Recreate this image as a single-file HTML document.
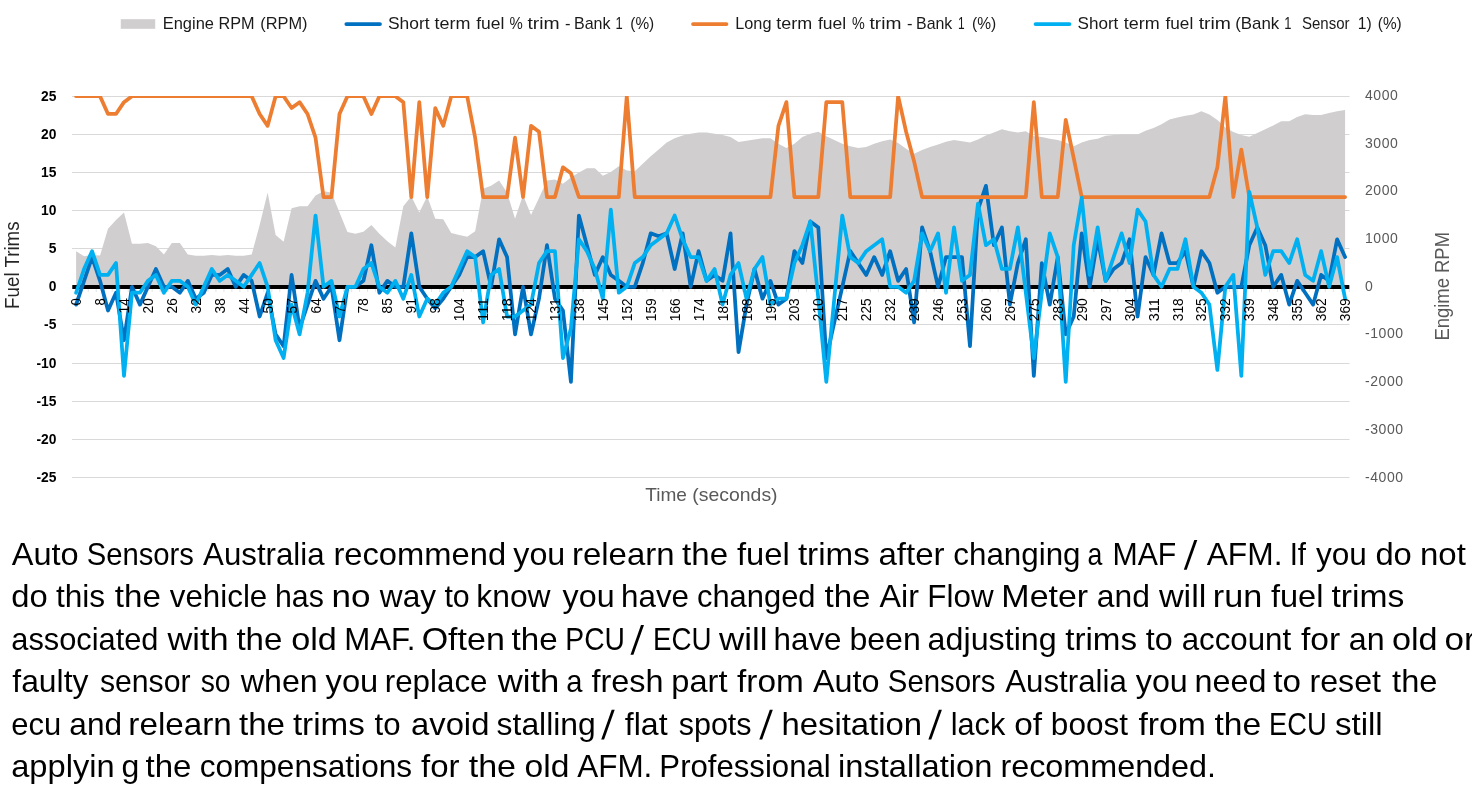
<!DOCTYPE html>
<html><head><meta charset="utf-8"><title>Fuel trims chart</title>
<style>
html,body{margin:0;padding:0;background:#fff;}
body{width:1472px;height:785px;position:relative;overflow:hidden;font-family:"Liberation Sans",sans-serif;}
svg{will-change:transform;}
svg text{font-family:"Liberation Sans",sans-serif;}
</style></head><body>
<svg width="1472" height="520" viewBox="0 0 1472 520" style="position:absolute;left:0;top:0">
<defs><clipPath id="pc"><rect x="72" y="96" width="1278" height="382"/></clipPath></defs>
<line x1="72" x2="1349.5" y1="477.50" y2="477.50" stroke="#d9d9d9" stroke-width="1"/>
<line x1="72" x2="1349.5" y1="439.50" y2="439.50" stroke="#d9d9d9" stroke-width="1"/>
<line x1="72" x2="1349.5" y1="401.50" y2="401.50" stroke="#d9d9d9" stroke-width="1"/>
<line x1="72" x2="1349.5" y1="363.50" y2="363.50" stroke="#d9d9d9" stroke-width="1"/>
<line x1="72" x2="1349.5" y1="324.50" y2="324.50" stroke="#d9d9d9" stroke-width="1"/>
<line x1="72" x2="1349.5" y1="287.00" y2="287.00" stroke="#d9d9d9" stroke-width="1"/>
<line x1="72" x2="1349.5" y1="248.50" y2="248.50" stroke="#d9d9d9" stroke-width="1"/>
<line x1="72" x2="1349.5" y1="210.50" y2="210.50" stroke="#d9d9d9" stroke-width="1"/>
<line x1="72" x2="1349.5" y1="172.50" y2="172.50" stroke="#d9d9d9" stroke-width="1"/>
<line x1="72" x2="1349.5" y1="134.50" y2="134.50" stroke="#d9d9d9" stroke-width="1"/>
<line x1="72" x2="1349.5" y1="96.50" y2="96.50" stroke="#d9d9d9" stroke-width="1"/>
<path d="M76.10,287.00 L76.10,251.25 L84.08,256.25 L92.06,255.00 L100.04,255.50 L108.02,228.75 L116.00,220.00 L123.99,212.50 L131.97,243.75 L139.95,243.75 L147.93,243.00 L155.91,246.25 L163.89,254.50 L171.87,243.00 L179.85,243.00 L187.83,254.50 L195.81,255.75 L203.80,255.75 L211.78,255.00 L219.76,255.75 L227.74,255.00 L235.72,255.75 L243.70,255.75 L251.68,254.50 L259.66,225.00 L267.64,192.50 L275.62,235.00 L283.61,241.75 L291.59,208.25 L299.57,206.25 L307.55,206.25 L315.53,195.50 L323.51,191.25 L331.49,192.50 L339.47,212.50 L347.45,232.00 L355.43,233.75 L363.42,231.75 L371.40,225.00 L379.38,233.75 L387.36,241.25 L395.34,247.50 L403.32,206.25 L411.30,196.25 L419.28,212.50 L427.26,196.25 L435.25,218.75 L443.23,219.25 L451.21,233.00 L459.19,235.00 L467.17,236.75 L475.15,231.25 L483.13,188.75 L491.11,185.75 L499.09,180.50 L507.07,192.50 L515.05,218.75 L523.04,195.00 L531.02,215.00 L539.00,198.00 L546.98,180.50 L554.96,179.50 L562.94,183.75 L570.92,177.50 L578.90,172.50 L586.88,168.25 L594.87,168.25 L602.85,175.75 L610.83,172.00 L618.81,166.25 L626.79,170.50 L634.77,171.25 L642.75,163.75 L650.73,156.25 L658.71,149.50 L666.69,142.50 L674.68,138.25 L682.66,135.50 L690.64,133.75 L698.62,132.50 L706.60,132.50 L714.58,133.75 L722.56,135.00 L730.54,137.00 L738.52,142.00 L746.50,140.75 L754.49,139.50 L762.47,138.25 L770.45,138.25 L778.43,143.75 L786.41,148.00 L794.39,143.75 L802.37,137.00 L810.35,133.75 L818.33,131.75 L826.31,136.25 L834.29,140.00 L842.28,143.75 L850.26,146.25 L858.24,148.00 L866.22,147.00 L874.20,143.75 L882.18,141.25 L890.16,139.50 L898.14,143.00 L906.12,148.75 L914.11,153.75 L922.09,150.00 L930.07,147.00 L938.05,144.50 L946.03,141.75 L954.01,140.00 L961.99,141.25 L969.97,142.50 L977.95,139.50 L985.93,135.50 L993.91,132.50 L1001.90,129.25 L1009.88,131.25 L1017.86,132.50 L1025.84,131.25 L1033.82,136.25 L1041.80,137.00 L1049.78,138.75 L1057.76,140.00 L1065.74,142.50 L1073.72,146.25 L1081.71,142.50 L1089.69,140.00 L1097.67,138.75 L1105.65,135.75 L1113.63,135.00 L1121.61,134.50 L1129.59,134.50 L1137.57,134.50 L1145.55,130.75 L1153.53,128.00 L1161.52,124.25 L1169.50,119.50 L1177.48,117.50 L1185.46,115.75 L1193.44,114.50 L1201.42,111.25 L1209.40,114.50 L1217.38,120.00 L1225.36,127.50 L1233.34,132.00 L1241.33,135.00 L1249.31,136.75 L1257.29,133.00 L1265.27,129.25 L1273.25,125.50 L1281.23,121.25 L1289.21,121.25 L1297.19,117.00 L1305.17,114.25 L1313.15,115.00 L1321.14,115.00 L1329.12,113.00 L1337.10,111.25 L1345.08,110.00 L1345.08,287.00 Z" fill="#d0cece"/>
<line x1="72.3" x2="1349.3" y1="287.00" y2="287.00" stroke="#000" stroke-width="4"/>
<line x1="80.28" x2="80.28" y1="289.00" y2="292.00" stroke="#e4e4e4" stroke-width="1"/>
<line x1="88.26" x2="88.26" y1="289.00" y2="292.00" stroke="#e4e4e4" stroke-width="1"/>
<line x1="96.24" x2="96.24" y1="289.00" y2="292.00" stroke="#e4e4e4" stroke-width="1"/>
<line x1="104.22" x2="104.22" y1="289.00" y2="292.00" stroke="#e4e4e4" stroke-width="1"/>
<line x1="112.20" x2="112.20" y1="289.00" y2="292.00" stroke="#e4e4e4" stroke-width="1"/>
<line x1="120.19" x2="120.19" y1="289.00" y2="292.00" stroke="#e4e4e4" stroke-width="1"/>
<line x1="128.17" x2="128.17" y1="289.00" y2="292.00" stroke="#e4e4e4" stroke-width="1"/>
<line x1="136.15" x2="136.15" y1="289.00" y2="292.00" stroke="#e4e4e4" stroke-width="1"/>
<line x1="144.13" x2="144.13" y1="289.00" y2="292.00" stroke="#e4e4e4" stroke-width="1"/>
<line x1="152.11" x2="152.11" y1="289.00" y2="292.00" stroke="#e4e4e4" stroke-width="1"/>
<line x1="160.09" x2="160.09" y1="289.00" y2="292.00" stroke="#e4e4e4" stroke-width="1"/>
<line x1="168.07" x2="168.07" y1="289.00" y2="292.00" stroke="#e4e4e4" stroke-width="1"/>
<line x1="176.05" x2="176.05" y1="289.00" y2="292.00" stroke="#e4e4e4" stroke-width="1"/>
<line x1="184.03" x2="184.03" y1="289.00" y2="292.00" stroke="#e4e4e4" stroke-width="1"/>
<line x1="192.01" x2="192.01" y1="289.00" y2="292.00" stroke="#e4e4e4" stroke-width="1"/>
<line x1="200.00" x2="200.00" y1="289.00" y2="292.00" stroke="#e4e4e4" stroke-width="1"/>
<line x1="207.98" x2="207.98" y1="289.00" y2="292.00" stroke="#e4e4e4" stroke-width="1"/>
<line x1="215.96" x2="215.96" y1="289.00" y2="292.00" stroke="#e4e4e4" stroke-width="1"/>
<line x1="223.94" x2="223.94" y1="289.00" y2="292.00" stroke="#e4e4e4" stroke-width="1"/>
<line x1="231.92" x2="231.92" y1="289.00" y2="292.00" stroke="#e4e4e4" stroke-width="1"/>
<line x1="239.90" x2="239.90" y1="289.00" y2="292.00" stroke="#e4e4e4" stroke-width="1"/>
<line x1="247.88" x2="247.88" y1="289.00" y2="292.00" stroke="#e4e4e4" stroke-width="1"/>
<line x1="255.86" x2="255.86" y1="289.00" y2="292.00" stroke="#e4e4e4" stroke-width="1"/>
<line x1="263.84" x2="263.84" y1="289.00" y2="292.00" stroke="#e4e4e4" stroke-width="1"/>
<line x1="271.82" x2="271.82" y1="289.00" y2="292.00" stroke="#e4e4e4" stroke-width="1"/>
<line x1="279.81" x2="279.81" y1="289.00" y2="292.00" stroke="#e4e4e4" stroke-width="1"/>
<line x1="287.79" x2="287.79" y1="289.00" y2="292.00" stroke="#e4e4e4" stroke-width="1"/>
<line x1="295.77" x2="295.77" y1="289.00" y2="292.00" stroke="#e4e4e4" stroke-width="1"/>
<line x1="303.75" x2="303.75" y1="289.00" y2="292.00" stroke="#e4e4e4" stroke-width="1"/>
<line x1="311.73" x2="311.73" y1="289.00" y2="292.00" stroke="#e4e4e4" stroke-width="1"/>
<line x1="319.71" x2="319.71" y1="289.00" y2="292.00" stroke="#e4e4e4" stroke-width="1"/>
<line x1="327.69" x2="327.69" y1="289.00" y2="292.00" stroke="#e4e4e4" stroke-width="1"/>
<line x1="335.67" x2="335.67" y1="289.00" y2="292.00" stroke="#e4e4e4" stroke-width="1"/>
<line x1="343.65" x2="343.65" y1="289.00" y2="292.00" stroke="#e4e4e4" stroke-width="1"/>
<line x1="351.63" x2="351.63" y1="289.00" y2="292.00" stroke="#e4e4e4" stroke-width="1"/>
<line x1="359.62" x2="359.62" y1="289.00" y2="292.00" stroke="#e4e4e4" stroke-width="1"/>
<line x1="367.60" x2="367.60" y1="289.00" y2="292.00" stroke="#e4e4e4" stroke-width="1"/>
<line x1="375.58" x2="375.58" y1="289.00" y2="292.00" stroke="#e4e4e4" stroke-width="1"/>
<line x1="383.56" x2="383.56" y1="289.00" y2="292.00" stroke="#e4e4e4" stroke-width="1"/>
<line x1="391.54" x2="391.54" y1="289.00" y2="292.00" stroke="#e4e4e4" stroke-width="1"/>
<line x1="399.52" x2="399.52" y1="289.00" y2="292.00" stroke="#e4e4e4" stroke-width="1"/>
<line x1="407.50" x2="407.50" y1="289.00" y2="292.00" stroke="#e4e4e4" stroke-width="1"/>
<line x1="415.48" x2="415.48" y1="289.00" y2="292.00" stroke="#e4e4e4" stroke-width="1"/>
<line x1="423.46" x2="423.46" y1="289.00" y2="292.00" stroke="#e4e4e4" stroke-width="1"/>
<line x1="431.44" x2="431.44" y1="289.00" y2="292.00" stroke="#e4e4e4" stroke-width="1"/>
<line x1="439.43" x2="439.43" y1="289.00" y2="292.00" stroke="#e4e4e4" stroke-width="1"/>
<line x1="447.41" x2="447.41" y1="289.00" y2="292.00" stroke="#e4e4e4" stroke-width="1"/>
<line x1="455.39" x2="455.39" y1="289.00" y2="292.00" stroke="#e4e4e4" stroke-width="1"/>
<line x1="463.37" x2="463.37" y1="289.00" y2="292.00" stroke="#e4e4e4" stroke-width="1"/>
<line x1="471.35" x2="471.35" y1="289.00" y2="292.00" stroke="#e4e4e4" stroke-width="1"/>
<line x1="479.33" x2="479.33" y1="289.00" y2="292.00" stroke="#e4e4e4" stroke-width="1"/>
<line x1="487.31" x2="487.31" y1="289.00" y2="292.00" stroke="#e4e4e4" stroke-width="1"/>
<line x1="495.29" x2="495.29" y1="289.00" y2="292.00" stroke="#e4e4e4" stroke-width="1"/>
<line x1="503.27" x2="503.27" y1="289.00" y2="292.00" stroke="#e4e4e4" stroke-width="1"/>
<line x1="511.25" x2="511.25" y1="289.00" y2="292.00" stroke="#e4e4e4" stroke-width="1"/>
<line x1="519.24" x2="519.24" y1="289.00" y2="292.00" stroke="#e4e4e4" stroke-width="1"/>
<line x1="527.22" x2="527.22" y1="289.00" y2="292.00" stroke="#e4e4e4" stroke-width="1"/>
<line x1="535.20" x2="535.20" y1="289.00" y2="292.00" stroke="#e4e4e4" stroke-width="1"/>
<line x1="543.18" x2="543.18" y1="289.00" y2="292.00" stroke="#e4e4e4" stroke-width="1"/>
<line x1="551.16" x2="551.16" y1="289.00" y2="292.00" stroke="#e4e4e4" stroke-width="1"/>
<line x1="559.14" x2="559.14" y1="289.00" y2="292.00" stroke="#e4e4e4" stroke-width="1"/>
<line x1="567.12" x2="567.12" y1="289.00" y2="292.00" stroke="#e4e4e4" stroke-width="1"/>
<line x1="575.10" x2="575.10" y1="289.00" y2="292.00" stroke="#e4e4e4" stroke-width="1"/>
<line x1="583.08" x2="583.08" y1="289.00" y2="292.00" stroke="#e4e4e4" stroke-width="1"/>
<line x1="591.06" x2="591.06" y1="289.00" y2="292.00" stroke="#e4e4e4" stroke-width="1"/>
<line x1="599.05" x2="599.05" y1="289.00" y2="292.00" stroke="#e4e4e4" stroke-width="1"/>
<line x1="607.03" x2="607.03" y1="289.00" y2="292.00" stroke="#e4e4e4" stroke-width="1"/>
<line x1="615.01" x2="615.01" y1="289.00" y2="292.00" stroke="#e4e4e4" stroke-width="1"/>
<line x1="622.99" x2="622.99" y1="289.00" y2="292.00" stroke="#e4e4e4" stroke-width="1"/>
<line x1="630.97" x2="630.97" y1="289.00" y2="292.00" stroke="#e4e4e4" stroke-width="1"/>
<line x1="638.95" x2="638.95" y1="289.00" y2="292.00" stroke="#e4e4e4" stroke-width="1"/>
<line x1="646.93" x2="646.93" y1="289.00" y2="292.00" stroke="#e4e4e4" stroke-width="1"/>
<line x1="654.91" x2="654.91" y1="289.00" y2="292.00" stroke="#e4e4e4" stroke-width="1"/>
<line x1="662.89" x2="662.89" y1="289.00" y2="292.00" stroke="#e4e4e4" stroke-width="1"/>
<line x1="670.88" x2="670.88" y1="289.00" y2="292.00" stroke="#e4e4e4" stroke-width="1"/>
<line x1="678.86" x2="678.86" y1="289.00" y2="292.00" stroke="#e4e4e4" stroke-width="1"/>
<line x1="686.84" x2="686.84" y1="289.00" y2="292.00" stroke="#e4e4e4" stroke-width="1"/>
<line x1="694.82" x2="694.82" y1="289.00" y2="292.00" stroke="#e4e4e4" stroke-width="1"/>
<line x1="702.80" x2="702.80" y1="289.00" y2="292.00" stroke="#e4e4e4" stroke-width="1"/>
<line x1="710.78" x2="710.78" y1="289.00" y2="292.00" stroke="#e4e4e4" stroke-width="1"/>
<line x1="718.76" x2="718.76" y1="289.00" y2="292.00" stroke="#e4e4e4" stroke-width="1"/>
<line x1="726.74" x2="726.74" y1="289.00" y2="292.00" stroke="#e4e4e4" stroke-width="1"/>
<line x1="734.72" x2="734.72" y1="289.00" y2="292.00" stroke="#e4e4e4" stroke-width="1"/>
<line x1="742.70" x2="742.70" y1="289.00" y2="292.00" stroke="#e4e4e4" stroke-width="1"/>
<line x1="750.68" x2="750.68" y1="289.00" y2="292.00" stroke="#e4e4e4" stroke-width="1"/>
<line x1="758.67" x2="758.67" y1="289.00" y2="292.00" stroke="#e4e4e4" stroke-width="1"/>
<line x1="766.65" x2="766.65" y1="289.00" y2="292.00" stroke="#e4e4e4" stroke-width="1"/>
<line x1="774.63" x2="774.63" y1="289.00" y2="292.00" stroke="#e4e4e4" stroke-width="1"/>
<line x1="782.61" x2="782.61" y1="289.00" y2="292.00" stroke="#e4e4e4" stroke-width="1"/>
<line x1="790.59" x2="790.59" y1="289.00" y2="292.00" stroke="#e4e4e4" stroke-width="1"/>
<line x1="798.57" x2="798.57" y1="289.00" y2="292.00" stroke="#e4e4e4" stroke-width="1"/>
<line x1="806.55" x2="806.55" y1="289.00" y2="292.00" stroke="#e4e4e4" stroke-width="1"/>
<line x1="814.53" x2="814.53" y1="289.00" y2="292.00" stroke="#e4e4e4" stroke-width="1"/>
<line x1="822.51" x2="822.51" y1="289.00" y2="292.00" stroke="#e4e4e4" stroke-width="1"/>
<line x1="830.49" x2="830.49" y1="289.00" y2="292.00" stroke="#e4e4e4" stroke-width="1"/>
<line x1="838.48" x2="838.48" y1="289.00" y2="292.00" stroke="#e4e4e4" stroke-width="1"/>
<line x1="846.46" x2="846.46" y1="289.00" y2="292.00" stroke="#e4e4e4" stroke-width="1"/>
<line x1="854.44" x2="854.44" y1="289.00" y2="292.00" stroke="#e4e4e4" stroke-width="1"/>
<line x1="862.42" x2="862.42" y1="289.00" y2="292.00" stroke="#e4e4e4" stroke-width="1"/>
<line x1="870.40" x2="870.40" y1="289.00" y2="292.00" stroke="#e4e4e4" stroke-width="1"/>
<line x1="878.38" x2="878.38" y1="289.00" y2="292.00" stroke="#e4e4e4" stroke-width="1"/>
<line x1="886.36" x2="886.36" y1="289.00" y2="292.00" stroke="#e4e4e4" stroke-width="1"/>
<line x1="894.34" x2="894.34" y1="289.00" y2="292.00" stroke="#e4e4e4" stroke-width="1"/>
<line x1="902.32" x2="902.32" y1="289.00" y2="292.00" stroke="#e4e4e4" stroke-width="1"/>
<line x1="910.30" x2="910.30" y1="289.00" y2="292.00" stroke="#e4e4e4" stroke-width="1"/>
<line x1="918.29" x2="918.29" y1="289.00" y2="292.00" stroke="#e4e4e4" stroke-width="1"/>
<line x1="926.27" x2="926.27" y1="289.00" y2="292.00" stroke="#e4e4e4" stroke-width="1"/>
<line x1="934.25" x2="934.25" y1="289.00" y2="292.00" stroke="#e4e4e4" stroke-width="1"/>
<line x1="942.23" x2="942.23" y1="289.00" y2="292.00" stroke="#e4e4e4" stroke-width="1"/>
<line x1="950.21" x2="950.21" y1="289.00" y2="292.00" stroke="#e4e4e4" stroke-width="1"/>
<line x1="958.19" x2="958.19" y1="289.00" y2="292.00" stroke="#e4e4e4" stroke-width="1"/>
<line x1="966.17" x2="966.17" y1="289.00" y2="292.00" stroke="#e4e4e4" stroke-width="1"/>
<line x1="974.15" x2="974.15" y1="289.00" y2="292.00" stroke="#e4e4e4" stroke-width="1"/>
<line x1="982.13" x2="982.13" y1="289.00" y2="292.00" stroke="#e4e4e4" stroke-width="1"/>
<line x1="990.11" x2="990.11" y1="289.00" y2="292.00" stroke="#e4e4e4" stroke-width="1"/>
<line x1="998.10" x2="998.10" y1="289.00" y2="292.00" stroke="#e4e4e4" stroke-width="1"/>
<line x1="1006.08" x2="1006.08" y1="289.00" y2="292.00" stroke="#e4e4e4" stroke-width="1"/>
<line x1="1014.06" x2="1014.06" y1="289.00" y2="292.00" stroke="#e4e4e4" stroke-width="1"/>
<line x1="1022.04" x2="1022.04" y1="289.00" y2="292.00" stroke="#e4e4e4" stroke-width="1"/>
<line x1="1030.02" x2="1030.02" y1="289.00" y2="292.00" stroke="#e4e4e4" stroke-width="1"/>
<line x1="1038.00" x2="1038.00" y1="289.00" y2="292.00" stroke="#e4e4e4" stroke-width="1"/>
<line x1="1045.98" x2="1045.98" y1="289.00" y2="292.00" stroke="#e4e4e4" stroke-width="1"/>
<line x1="1053.96" x2="1053.96" y1="289.00" y2="292.00" stroke="#e4e4e4" stroke-width="1"/>
<line x1="1061.94" x2="1061.94" y1="289.00" y2="292.00" stroke="#e4e4e4" stroke-width="1"/>
<line x1="1069.92" x2="1069.92" y1="289.00" y2="292.00" stroke="#e4e4e4" stroke-width="1"/>
<line x1="1077.91" x2="1077.91" y1="289.00" y2="292.00" stroke="#e4e4e4" stroke-width="1"/>
<line x1="1085.89" x2="1085.89" y1="289.00" y2="292.00" stroke="#e4e4e4" stroke-width="1"/>
<line x1="1093.87" x2="1093.87" y1="289.00" y2="292.00" stroke="#e4e4e4" stroke-width="1"/>
<line x1="1101.85" x2="1101.85" y1="289.00" y2="292.00" stroke="#e4e4e4" stroke-width="1"/>
<line x1="1109.83" x2="1109.83" y1="289.00" y2="292.00" stroke="#e4e4e4" stroke-width="1"/>
<line x1="1117.81" x2="1117.81" y1="289.00" y2="292.00" stroke="#e4e4e4" stroke-width="1"/>
<line x1="1125.79" x2="1125.79" y1="289.00" y2="292.00" stroke="#e4e4e4" stroke-width="1"/>
<line x1="1133.77" x2="1133.77" y1="289.00" y2="292.00" stroke="#e4e4e4" stroke-width="1"/>
<line x1="1141.75" x2="1141.75" y1="289.00" y2="292.00" stroke="#e4e4e4" stroke-width="1"/>
<line x1="1149.73" x2="1149.73" y1="289.00" y2="292.00" stroke="#e4e4e4" stroke-width="1"/>
<line x1="1157.72" x2="1157.72" y1="289.00" y2="292.00" stroke="#e4e4e4" stroke-width="1"/>
<line x1="1165.70" x2="1165.70" y1="289.00" y2="292.00" stroke="#e4e4e4" stroke-width="1"/>
<line x1="1173.68" x2="1173.68" y1="289.00" y2="292.00" stroke="#e4e4e4" stroke-width="1"/>
<line x1="1181.66" x2="1181.66" y1="289.00" y2="292.00" stroke="#e4e4e4" stroke-width="1"/>
<line x1="1189.64" x2="1189.64" y1="289.00" y2="292.00" stroke="#e4e4e4" stroke-width="1"/>
<line x1="1197.62" x2="1197.62" y1="289.00" y2="292.00" stroke="#e4e4e4" stroke-width="1"/>
<line x1="1205.60" x2="1205.60" y1="289.00" y2="292.00" stroke="#e4e4e4" stroke-width="1"/>
<line x1="1213.58" x2="1213.58" y1="289.00" y2="292.00" stroke="#e4e4e4" stroke-width="1"/>
<line x1="1221.56" x2="1221.56" y1="289.00" y2="292.00" stroke="#e4e4e4" stroke-width="1"/>
<line x1="1229.54" x2="1229.54" y1="289.00" y2="292.00" stroke="#e4e4e4" stroke-width="1"/>
<line x1="1237.53" x2="1237.53" y1="289.00" y2="292.00" stroke="#e4e4e4" stroke-width="1"/>
<line x1="1245.51" x2="1245.51" y1="289.00" y2="292.00" stroke="#e4e4e4" stroke-width="1"/>
<line x1="1253.49" x2="1253.49" y1="289.00" y2="292.00" stroke="#e4e4e4" stroke-width="1"/>
<line x1="1261.47" x2="1261.47" y1="289.00" y2="292.00" stroke="#e4e4e4" stroke-width="1"/>
<line x1="1269.45" x2="1269.45" y1="289.00" y2="292.00" stroke="#e4e4e4" stroke-width="1"/>
<line x1="1277.43" x2="1277.43" y1="289.00" y2="292.00" stroke="#e4e4e4" stroke-width="1"/>
<line x1="1285.41" x2="1285.41" y1="289.00" y2="292.00" stroke="#e4e4e4" stroke-width="1"/>
<line x1="1293.39" x2="1293.39" y1="289.00" y2="292.00" stroke="#e4e4e4" stroke-width="1"/>
<line x1="1301.37" x2="1301.37" y1="289.00" y2="292.00" stroke="#e4e4e4" stroke-width="1"/>
<line x1="1309.36" x2="1309.36" y1="289.00" y2="292.00" stroke="#e4e4e4" stroke-width="1"/>
<line x1="1317.34" x2="1317.34" y1="289.00" y2="292.00" stroke="#e4e4e4" stroke-width="1"/>
<line x1="1325.32" x2="1325.32" y1="289.00" y2="292.00" stroke="#e4e4e4" stroke-width="1"/>
<line x1="1333.30" x2="1333.30" y1="289.00" y2="292.00" stroke="#e4e4e4" stroke-width="1"/>
<line x1="1341.28" x2="1341.28" y1="289.00" y2="292.00" stroke="#e4e4e4" stroke-width="1"/>
<line x1="1349.26" x2="1349.26" y1="289.00" y2="292.00" stroke="#e4e4e4" stroke-width="1"/>
<g clip-path="url(#pc)" fill="none" stroke-width="3.75" stroke-linejoin="round" stroke-linecap="round">
<polyline points="76.10,304.62 84.08,280.86 92.06,257.10 100.04,280.86 108.02,310.56 116.00,292.74 123.99,340.26 131.97,286.80 139.95,304.62 147.93,286.80 155.91,268.98 163.89,286.80 171.87,286.80 179.85,292.74 187.83,280.86 195.81,298.68 203.80,292.74 211.78,274.92 219.76,274.92 227.74,268.98 235.72,286.80 243.70,274.92 251.68,280.86 259.66,316.50 267.64,292.74 275.62,334.32 283.61,346.20 291.59,274.92 299.57,328.38 307.55,304.62 315.53,280.86 323.51,298.68 331.49,286.80 339.47,340.26 347.45,286.80 355.43,286.80 363.42,280.86 371.40,245.22 379.38,292.74 387.36,280.86 395.34,286.80 403.32,286.80 411.30,233.34 419.28,286.80 427.26,298.68 435.25,308.18 443.23,298.68 451.21,286.80 459.19,274.92 467.17,257.10 475.15,257.10 483.13,251.16 491.11,286.80 499.09,239.28 507.07,257.10 515.05,334.32 523.04,286.80 531.02,334.32 539.00,298.68 546.98,245.22 554.96,298.68 562.94,310.56 570.92,381.84 578.90,215.52 586.88,245.22 594.87,274.92 602.85,257.10 610.83,274.92 618.81,280.86 626.79,286.80 634.77,286.80 642.75,263.04 650.73,233.34 658.71,236.31 666.69,233.34 674.68,268.98 682.66,233.34 690.64,286.80 698.62,251.16 706.60,280.86 714.58,274.92 722.56,280.86 730.54,233.34 738.52,352.14 746.50,304.62 754.49,268.98 762.47,298.68 770.45,280.86 778.43,304.62 786.41,298.68 794.39,251.16 802.37,263.04 810.35,221.46 818.33,227.40 826.31,358.08 834.29,322.44 842.28,286.80 850.26,251.16 858.24,263.04 866.22,274.92 874.20,257.10 882.18,274.92 890.16,251.16 898.14,280.86 906.12,268.98 914.11,322.44 922.09,227.40 930.07,251.16 938.05,286.80 946.03,257.10 954.01,257.10 961.99,257.10 969.97,346.20 977.95,209.58 985.93,185.82 993.91,245.22 1001.90,227.40 1009.88,304.62 1017.86,263.04 1025.84,239.28 1033.82,375.90 1041.80,263.04 1049.78,304.62 1057.76,257.10 1065.74,334.32 1073.72,316.50 1081.71,233.34 1089.69,286.80 1097.67,239.28 1105.65,280.86 1113.63,268.98 1121.61,263.04 1129.59,239.28 1137.57,316.50 1145.55,257.10 1153.53,274.92 1161.52,233.34 1169.50,263.04 1177.48,263.04 1185.46,251.16 1193.44,286.80 1201.42,251.16 1209.40,263.04 1217.38,292.74 1225.36,286.80 1233.34,286.80 1241.33,286.80 1249.31,245.22 1257.29,227.40 1265.27,245.22 1273.25,286.80 1281.23,274.92 1289.21,304.62 1297.19,280.86 1305.17,292.74 1313.15,304.62 1321.14,274.92 1329.12,280.86 1337.10,239.28 1345.08,257.10" stroke="#0070c0"/>
<polyline points="76.10,96.20 84.08,96.20 92.06,96.20 100.04,96.20 108.02,113.99 116.00,113.99 123.99,102.13 131.97,96.20 139.95,96.20 147.93,96.20 155.91,96.20 163.89,96.20 171.87,96.20 179.85,96.20 187.83,96.20 195.81,96.20 203.80,96.20 211.78,96.20 219.76,96.20 227.74,96.20 235.72,96.20 243.70,96.20 251.68,96.20 259.66,113.99 267.64,125.85 275.62,96.20 283.61,96.20 291.59,108.06 299.57,102.13 307.55,113.99 315.53,137.71 323.51,197.01 331.49,197.01 339.47,113.99 347.45,96.20 355.43,96.20 363.42,96.20 371.40,113.99 379.38,96.20 387.36,96.20 395.34,96.20 403.32,102.13 411.30,197.01 419.28,102.13 427.26,197.01 435.25,108.06 443.23,125.85 451.21,96.20 459.19,96.20 467.17,96.20 475.15,137.71 483.13,197.01 491.11,197.01 499.09,197.01 507.07,197.01 515.05,137.71 523.04,197.01 531.02,125.85 539.00,131.78 546.98,197.01 554.96,197.01 562.94,167.36 570.92,173.29 578.90,197.01 586.88,197.01 594.87,197.01 602.85,197.01 610.83,197.01 618.81,197.01 626.79,96.20 634.77,197.01 642.75,197.01 650.73,197.01 658.71,197.01 666.69,197.01 674.68,197.01 682.66,197.01 690.64,197.01 698.62,197.01 706.60,197.01 714.58,197.01 722.56,197.01 730.54,197.01 738.52,197.01 746.50,197.01 754.49,197.01 762.47,197.01 770.45,197.01 778.43,125.85 786.41,102.13 794.39,197.01 802.37,197.01 810.35,197.01 818.33,197.01 826.31,102.13 834.29,102.13 842.28,102.13 850.26,197.01 858.24,197.01 866.22,197.01 874.20,197.01 882.18,197.01 890.16,197.01 898.14,96.20 906.12,131.78 914.11,161.43 922.09,197.01 930.07,197.01 938.05,197.01 946.03,197.01 954.01,197.01 961.99,197.01 969.97,197.01 977.95,197.01 985.93,197.01 993.91,197.01 1001.90,197.01 1009.88,197.01 1017.86,197.01 1025.84,197.01 1033.82,102.13 1041.80,197.01 1049.78,197.01 1057.76,197.01 1065.74,119.92 1073.72,158.11 1081.71,197.01 1089.69,197.01 1097.67,197.01 1105.65,197.01 1113.63,197.01 1121.61,197.01 1129.59,197.01 1137.57,197.01 1145.55,197.01 1153.53,197.01 1161.52,197.01 1169.50,197.01 1177.48,197.01 1185.46,197.01 1193.44,197.01 1201.42,197.01 1209.40,197.01 1217.38,167.36 1225.36,96.20 1233.34,197.01 1241.33,149.57 1249.31,197.01 1257.29,197.01 1265.27,197.01 1273.25,197.01 1281.23,197.01 1289.21,197.01 1297.19,197.01 1305.17,197.01 1313.15,197.01 1321.14,197.01 1329.12,197.01 1337.10,197.01 1345.08,197.01" stroke="#ed7d31"/>
<polyline points="76.10,292.74 84.08,268.98 92.06,251.16 100.04,274.92 108.02,274.92 116.00,263.04 123.99,375.90 131.97,292.74 139.95,292.74 147.93,280.86 155.91,274.92 163.89,292.74 171.87,280.86 179.85,280.86 187.83,286.80 195.81,304.62 203.80,286.80 211.78,268.98 219.76,280.86 227.74,274.92 235.72,280.86 243.70,286.80 251.68,274.92 259.66,263.04 267.64,286.80 275.62,340.26 283.61,358.08 291.59,304.62 299.57,334.32 307.55,292.74 315.53,215.52 323.51,286.80 331.49,280.86 339.47,316.50 347.45,286.80 355.43,286.80 363.42,268.98 371.40,263.04 379.38,286.80 387.36,292.74 395.34,280.86 403.32,298.68 411.30,274.92 419.28,316.50 427.26,298.68 435.25,304.62 443.23,292.74 451.21,286.80 459.19,268.98 467.17,251.16 475.15,257.10 483.13,322.44 491.11,274.92 499.09,268.98 507.07,316.50 515.05,316.50 523.04,310.56 531.02,304.62 539.00,263.04 546.98,251.16 554.96,251.16 562.94,358.08 570.92,328.38 578.90,239.28 586.88,251.16 594.87,268.98 602.85,298.68 610.83,209.58 618.81,292.74 626.79,286.80 634.77,263.04 642.75,257.10 650.73,245.22 658.71,239.28 666.69,233.34 674.68,215.52 682.66,239.28 690.64,257.10 698.62,257.10 706.60,280.86 714.58,268.98 722.56,304.62 730.54,274.92 738.52,263.04 746.50,298.68 754.49,268.98 762.47,257.10 770.45,304.62 778.43,298.68 786.41,298.68 794.39,263.04 802.37,245.22 810.35,221.46 818.33,298.68 826.31,381.84 834.29,298.68 842.28,215.52 850.26,257.10 858.24,263.04 866.22,251.16 874.20,245.22 882.18,239.28 890.16,286.80 898.14,286.80 906.12,292.74 914.11,280.86 922.09,233.34 930.07,251.16 938.05,233.34 946.03,292.74 954.01,227.40 961.99,280.86 969.97,274.92 977.95,203.64 985.93,245.22 993.91,239.28 1001.90,268.98 1009.88,268.98 1017.86,227.40 1025.84,292.74 1033.82,358.08 1041.80,292.74 1049.78,233.34 1057.76,257.10 1065.74,381.84 1073.72,245.22 1081.71,197.70 1089.69,274.92 1097.67,227.40 1105.65,280.86 1113.63,257.10 1121.61,233.34 1129.59,263.04 1137.57,209.58 1145.55,221.46 1153.53,274.92 1161.52,286.80 1169.50,268.98 1177.48,268.98 1185.46,239.28 1193.44,286.80 1201.42,292.74 1209.40,304.62 1217.38,369.96 1225.36,286.80 1233.34,274.92 1241.33,375.90 1249.31,191.76 1257.29,227.40 1265.27,274.92 1273.25,251.16 1281.23,251.16 1289.21,263.04 1297.19,239.28 1305.17,274.92 1313.15,280.86 1321.14,251.16 1329.12,286.80 1337.10,257.10 1345.08,298.68" stroke="#00b0f0"/>
</g>
<text transform="translate(81.15,298.2) rotate(-90)" text-anchor="end" font-size="14.8" fill="#000" textLength="7.3" lengthAdjust="spacingAndGlyphs">0</text>
<text transform="translate(105.09,298.2) rotate(-90)" text-anchor="end" font-size="14.8" fill="#000" textLength="7.3" lengthAdjust="spacingAndGlyphs">8</text>
<text transform="translate(129.04,298.2) rotate(-90)" text-anchor="end" font-size="14.8" fill="#000" textLength="15.2" lengthAdjust="spacingAndGlyphs">14</text>
<text transform="translate(152.98,298.2) rotate(-90)" text-anchor="end" font-size="14.8" fill="#000" textLength="15.2" lengthAdjust="spacingAndGlyphs">20</text>
<text transform="translate(176.92,298.2) rotate(-90)" text-anchor="end" font-size="14.8" fill="#000" textLength="15.2" lengthAdjust="spacingAndGlyphs">26</text>
<text transform="translate(200.87,298.2) rotate(-90)" text-anchor="end" font-size="14.8" fill="#000" textLength="15.2" lengthAdjust="spacingAndGlyphs">32</text>
<text transform="translate(224.81,298.2) rotate(-90)" text-anchor="end" font-size="14.8" fill="#000" textLength="15.2" lengthAdjust="spacingAndGlyphs">38</text>
<text transform="translate(248.75,298.2) rotate(-90)" text-anchor="end" font-size="14.8" fill="#000" textLength="15.2" lengthAdjust="spacingAndGlyphs">44</text>
<text transform="translate(272.69,298.2) rotate(-90)" text-anchor="end" font-size="14.8" fill="#000" textLength="15.2" lengthAdjust="spacingAndGlyphs">50</text>
<text transform="translate(296.64,298.2) rotate(-90)" text-anchor="end" font-size="14.8" fill="#000" textLength="15.2" lengthAdjust="spacingAndGlyphs">57</text>
<text transform="translate(320.58,298.2) rotate(-90)" text-anchor="end" font-size="14.8" fill="#000" textLength="15.2" lengthAdjust="spacingAndGlyphs">64</text>
<text transform="translate(344.52,298.2) rotate(-90)" text-anchor="end" font-size="14.8" fill="#000" textLength="15.2" lengthAdjust="spacingAndGlyphs">71</text>
<text transform="translate(368.47,298.2) rotate(-90)" text-anchor="end" font-size="14.8" fill="#000" textLength="15.2" lengthAdjust="spacingAndGlyphs">78</text>
<text transform="translate(392.41,298.2) rotate(-90)" text-anchor="end" font-size="14.8" fill="#000" textLength="15.2" lengthAdjust="spacingAndGlyphs">85</text>
<text transform="translate(416.35,298.2) rotate(-90)" text-anchor="end" font-size="14.8" fill="#000" textLength="15.2" lengthAdjust="spacingAndGlyphs">91</text>
<text transform="translate(440.30,298.2) rotate(-90)" text-anchor="end" font-size="14.8" fill="#000" textLength="15.2" lengthAdjust="spacingAndGlyphs">98</text>
<text transform="translate(464.24,298.2) rotate(-90)" text-anchor="end" font-size="14.8" fill="#000" textLength="23.0" lengthAdjust="spacingAndGlyphs">104</text>
<text transform="translate(488.18,298.2) rotate(-90)" text-anchor="end" font-size="14.8" fill="#000" textLength="23.0" lengthAdjust="spacingAndGlyphs">111</text>
<text transform="translate(512.12,298.2) rotate(-90)" text-anchor="end" font-size="14.8" fill="#000" textLength="23.0" lengthAdjust="spacingAndGlyphs">118</text>
<text transform="translate(536.07,298.2) rotate(-90)" text-anchor="end" font-size="14.8" fill="#000" textLength="23.0" lengthAdjust="spacingAndGlyphs">124</text>
<text transform="translate(560.01,298.2) rotate(-90)" text-anchor="end" font-size="14.8" fill="#000" textLength="23.0" lengthAdjust="spacingAndGlyphs">131</text>
<text transform="translate(583.95,298.2) rotate(-90)" text-anchor="end" font-size="14.8" fill="#000" textLength="23.0" lengthAdjust="spacingAndGlyphs">138</text>
<text transform="translate(607.90,298.2) rotate(-90)" text-anchor="end" font-size="14.8" fill="#000" textLength="23.0" lengthAdjust="spacingAndGlyphs">145</text>
<text transform="translate(631.84,298.2) rotate(-90)" text-anchor="end" font-size="14.8" fill="#000" textLength="23.0" lengthAdjust="spacingAndGlyphs">152</text>
<text transform="translate(655.78,298.2) rotate(-90)" text-anchor="end" font-size="14.8" fill="#000" textLength="23.0" lengthAdjust="spacingAndGlyphs">159</text>
<text transform="translate(679.73,298.2) rotate(-90)" text-anchor="end" font-size="14.8" fill="#000" textLength="23.0" lengthAdjust="spacingAndGlyphs">166</text>
<text transform="translate(703.67,298.2) rotate(-90)" text-anchor="end" font-size="14.8" fill="#000" textLength="23.0" lengthAdjust="spacingAndGlyphs">174</text>
<text transform="translate(727.61,298.2) rotate(-90)" text-anchor="end" font-size="14.8" fill="#000" textLength="23.0" lengthAdjust="spacingAndGlyphs">181</text>
<text transform="translate(751.55,298.2) rotate(-90)" text-anchor="end" font-size="14.8" fill="#000" textLength="23.0" lengthAdjust="spacingAndGlyphs">188</text>
<text transform="translate(775.50,298.2) rotate(-90)" text-anchor="end" font-size="14.8" fill="#000" textLength="23.0" lengthAdjust="spacingAndGlyphs">195</text>
<text transform="translate(799.44,298.2) rotate(-90)" text-anchor="end" font-size="14.8" fill="#000" textLength="23.0" lengthAdjust="spacingAndGlyphs">203</text>
<text transform="translate(823.38,298.2) rotate(-90)" text-anchor="end" font-size="14.8" fill="#000" textLength="23.0" lengthAdjust="spacingAndGlyphs">210</text>
<text transform="translate(847.33,298.2) rotate(-90)" text-anchor="end" font-size="14.8" fill="#000" textLength="23.0" lengthAdjust="spacingAndGlyphs">217</text>
<text transform="translate(871.27,298.2) rotate(-90)" text-anchor="end" font-size="14.8" fill="#000" textLength="23.0" lengthAdjust="spacingAndGlyphs">225</text>
<text transform="translate(895.21,298.2) rotate(-90)" text-anchor="end" font-size="14.8" fill="#000" textLength="23.0" lengthAdjust="spacingAndGlyphs">232</text>
<text transform="translate(919.15,298.2) rotate(-90)" text-anchor="end" font-size="14.8" fill="#000" textLength="23.0" lengthAdjust="spacingAndGlyphs">239</text>
<text transform="translate(943.10,298.2) rotate(-90)" text-anchor="end" font-size="14.8" fill="#000" textLength="23.0" lengthAdjust="spacingAndGlyphs">246</text>
<text transform="translate(967.04,298.2) rotate(-90)" text-anchor="end" font-size="14.8" fill="#000" textLength="23.0" lengthAdjust="spacingAndGlyphs">253</text>
<text transform="translate(990.98,298.2) rotate(-90)" text-anchor="end" font-size="14.8" fill="#000" textLength="23.0" lengthAdjust="spacingAndGlyphs">260</text>
<text transform="translate(1014.93,298.2) rotate(-90)" text-anchor="end" font-size="14.8" fill="#000" textLength="23.0" lengthAdjust="spacingAndGlyphs">267</text>
<text transform="translate(1038.87,298.2) rotate(-90)" text-anchor="end" font-size="14.8" fill="#000" textLength="23.0" lengthAdjust="spacingAndGlyphs">275</text>
<text transform="translate(1062.81,298.2) rotate(-90)" text-anchor="end" font-size="14.8" fill="#000" textLength="23.0" lengthAdjust="spacingAndGlyphs">283</text>
<text transform="translate(1086.76,298.2) rotate(-90)" text-anchor="end" font-size="14.8" fill="#000" textLength="23.0" lengthAdjust="spacingAndGlyphs">290</text>
<text transform="translate(1110.70,298.2) rotate(-90)" text-anchor="end" font-size="14.8" fill="#000" textLength="23.0" lengthAdjust="spacingAndGlyphs">297</text>
<text transform="translate(1134.64,298.2) rotate(-90)" text-anchor="end" font-size="14.8" fill="#000" textLength="23.0" lengthAdjust="spacingAndGlyphs">304</text>
<text transform="translate(1158.58,298.2) rotate(-90)" text-anchor="end" font-size="14.8" fill="#000" textLength="23.0" lengthAdjust="spacingAndGlyphs">311</text>
<text transform="translate(1182.53,298.2) rotate(-90)" text-anchor="end" font-size="14.8" fill="#000" textLength="23.0" lengthAdjust="spacingAndGlyphs">318</text>
<text transform="translate(1206.47,298.2) rotate(-90)" text-anchor="end" font-size="14.8" fill="#000" textLength="23.0" lengthAdjust="spacingAndGlyphs">325</text>
<text transform="translate(1230.41,298.2) rotate(-90)" text-anchor="end" font-size="14.8" fill="#000" textLength="23.0" lengthAdjust="spacingAndGlyphs">332</text>
<text transform="translate(1254.36,298.2) rotate(-90)" text-anchor="end" font-size="14.8" fill="#000" textLength="23.0" lengthAdjust="spacingAndGlyphs">339</text>
<text transform="translate(1278.30,298.2) rotate(-90)" text-anchor="end" font-size="14.8" fill="#000" textLength="23.0" lengthAdjust="spacingAndGlyphs">348</text>
<text transform="translate(1302.24,298.2) rotate(-90)" text-anchor="end" font-size="14.8" fill="#000" textLength="23.0" lengthAdjust="spacingAndGlyphs">355</text>
<text transform="translate(1326.19,298.2) rotate(-90)" text-anchor="end" font-size="14.8" fill="#000" textLength="23.0" lengthAdjust="spacingAndGlyphs">362</text>
<text transform="translate(1350.13,298.2) rotate(-90)" text-anchor="end" font-size="14.8" fill="#000" textLength="23.0" lengthAdjust="spacingAndGlyphs">369</text>
<text x="56.4" y="481.90" text-anchor="end" font-size="13.8" font-weight="bold" fill="#000">-25</text>
<text x="56.4" y="443.90" text-anchor="end" font-size="13.8" font-weight="bold" fill="#000">-20</text>
<text x="56.4" y="405.90" text-anchor="end" font-size="13.8" font-weight="bold" fill="#000">-15</text>
<text x="56.4" y="367.90" text-anchor="end" font-size="13.8" font-weight="bold" fill="#000">-10</text>
<text x="56.4" y="328.90" text-anchor="end" font-size="13.8" font-weight="bold" fill="#000">-5</text>
<text x="56.4" y="291.40" text-anchor="end" font-size="13.8" font-weight="bold" fill="#000">0</text>
<text x="56.4" y="252.90" text-anchor="end" font-size="13.8" font-weight="bold" fill="#000">5</text>
<text x="56.4" y="214.90" text-anchor="end" font-size="13.8" font-weight="bold" fill="#000">10</text>
<text x="56.4" y="176.90" text-anchor="end" font-size="13.8" font-weight="bold" fill="#000">15</text>
<text x="56.4" y="138.90" text-anchor="end" font-size="13.8" font-weight="bold" fill="#000">20</text>
<text x="56.4" y="100.90" text-anchor="end" font-size="13.8" font-weight="bold" fill="#000">25</text>
<text x="1365" y="481.50" font-size="14" fill="#595959" letter-spacing="0.55">-4000</text>
<text x="1365" y="433.80" font-size="14" fill="#595959" letter-spacing="0.55">-3000</text>
<text x="1365" y="386.10" font-size="14" fill="#595959" letter-spacing="0.55">-2000</text>
<text x="1365" y="338.40" font-size="14" fill="#595959" letter-spacing="0.55">-1000</text>
<text x="1365" y="290.70" font-size="14" fill="#595959" letter-spacing="0.55">0</text>
<text x="1365" y="243.00" font-size="14" fill="#595959" letter-spacing="0.55">1000</text>
<text x="1365" y="195.30" font-size="14" fill="#595959" letter-spacing="0.55">2000</text>
<text x="1365" y="147.60" font-size="14" fill="#595959" letter-spacing="0.55">3000</text>
<text x="1365" y="99.90" font-size="14" fill="#595959" letter-spacing="0.55">4000</text>
<rect x="120.8" y="19.2" width="34.4" height="9.6" fill="#d0cece"/>
<line x1="346.3" x2="380" y1="24" y2="24" stroke="#0070c0" stroke-width="3.75" stroke-linecap="round"/>
<line x1="693" x2="726.5" y1="24" y2="24" stroke="#ed7d31" stroke-width="3.75" stroke-linecap="round"/>
<line x1="1035.5" x2="1069.5" y1="24" y2="24" stroke="#00b0f0" stroke-width="3.75" stroke-linecap="round"/>
<text x="162.76" y="28.8" font-size="16.6" fill="#1a1a1a" textLength="51.22" lengthAdjust="spacingAndGlyphs">Engine</text>
<text x="218.52" y="28.8" font-size="16.6" fill="#1a1a1a" textLength="36.03" lengthAdjust="spacingAndGlyphs">RPM</text>
<text x="260.26" y="28.8" font-size="16.6" fill="#1a1a1a" textLength="47.25" lengthAdjust="spacingAndGlyphs">(RPM)</text>
<text x="388.0" y="28.8" font-size="16.6" fill="#1a1a1a" textLength="41.59" lengthAdjust="spacingAndGlyphs">Short</text>
<text x="434.5" y="28.8" font-size="16.6" fill="#1a1a1a" textLength="35.89" lengthAdjust="spacingAndGlyphs">term</text>
<text x="476.25" y="28.8" font-size="16.6" fill="#1a1a1a" textLength="28.22" lengthAdjust="spacingAndGlyphs">fuel</text>
<text x="509.5" y="28.8" font-size="16.6" fill="#1a1a1a" textLength="13.28" lengthAdjust="spacingAndGlyphs">%</text>
<text x="527.5" y="28.8" font-size="16.6" fill="#1a1a1a" textLength="32.21" lengthAdjust="spacingAndGlyphs">trim</text>
<text x="565.0" y="28.8" font-size="16.6" fill="#1a1a1a" textLength="5.53" lengthAdjust="spacingAndGlyphs">-</text>
<text x="574.03" y="28.8" font-size="16.6" fill="#1a1a1a" textLength="36.54" lengthAdjust="spacingAndGlyphs">Bank</text>
<text x="615.47" y="28.8" font-size="16.6" fill="#1a1a1a" textLength="7.21" lengthAdjust="spacingAndGlyphs">1</text>
<text x="630.32" y="28.8" font-size="16.6" fill="#1a1a1a" textLength="23.91" lengthAdjust="spacingAndGlyphs">(%)</text>
<text x="735.27" y="28.8" font-size="16.6" fill="#1a1a1a" textLength="36.21" lengthAdjust="spacingAndGlyphs">Long</text>
<text x="776.25" y="28.8" font-size="16.6" fill="#1a1a1a" textLength="35.89" lengthAdjust="spacingAndGlyphs">term</text>
<text x="818.0" y="28.8" font-size="16.6" fill="#1a1a1a" textLength="28.22" lengthAdjust="spacingAndGlyphs">fuel</text>
<text x="852.0" y="28.8" font-size="16.6" fill="#1a1a1a" textLength="12.79" lengthAdjust="spacingAndGlyphs">%</text>
<text x="869.5" y="28.8" font-size="16.6" fill="#1a1a1a" textLength="31.95" lengthAdjust="spacingAndGlyphs">trim</text>
<text x="907.0" y="28.8" font-size="16.6" fill="#1a1a1a" textLength="5.53" lengthAdjust="spacingAndGlyphs">-</text>
<text x="916.04" y="28.8" font-size="16.6" fill="#1a1a1a" textLength="36.28" lengthAdjust="spacingAndGlyphs">Bank</text>
<text x="958.03" y="28.8" font-size="16.6" fill="#1a1a1a" textLength="6.63" lengthAdjust="spacingAndGlyphs">1</text>
<text x="972.06" y="28.8" font-size="16.6" fill="#1a1a1a" textLength="24.18" lengthAdjust="spacingAndGlyphs">(%)</text>
<text x="1077.5" y="28.8" font-size="16.6" fill="#1a1a1a" textLength="40.85" lengthAdjust="spacingAndGlyphs">Short</text>
<text x="1123.75" y="28.8" font-size="16.6" fill="#1a1a1a" textLength="35.89" lengthAdjust="spacingAndGlyphs">term</text>
<text x="1165.5" y="28.8" font-size="16.6" fill="#1a1a1a" textLength="27.71" lengthAdjust="spacingAndGlyphs">fuel</text>
<text x="1198.75" y="28.8" font-size="16.6" fill="#1a1a1a" textLength="32.21" lengthAdjust="spacingAndGlyphs">trim</text>
<text x="1235.23" y="28.8" font-size="16.6" fill="#1a1a1a" textLength="44.05" lengthAdjust="spacingAndGlyphs">(Bank</text>
<text x="1284.22" y="28.8" font-size="16.6" fill="#1a1a1a" textLength="7.21" lengthAdjust="spacingAndGlyphs">1</text>
<text x="1302.0" y="28.8" font-size="16.6" fill="#1a1a1a" textLength="47.57" lengthAdjust="spacingAndGlyphs">Sensor</text>
<text x="1357.81" y="28.8" font-size="16.6" fill="#1a1a1a" textLength="13.94" lengthAdjust="spacingAndGlyphs">1)</text>
<text x="1377.82" y="28.8" font-size="16.6" fill="#1a1a1a" textLength="23.91" lengthAdjust="spacingAndGlyphs">(%)</text>
<text x="645.3" y="500.7" font-size="18.4" fill="#595959" textLength="41.64" lengthAdjust="spacingAndGlyphs">Time</text>
<text x="692.34" y="500.7" font-size="18.4" fill="#595959" textLength="85.24" lengthAdjust="spacingAndGlyphs">(seconds)</text>
<text transform="translate(19.3,308.9) rotate(-90)" font-size="20.4" fill="#262626" textLength="87.5" lengthAdjust="spacingAndGlyphs">Fuel Trims</text>
<text transform="translate(1449.2,340.5) rotate(-90)" font-size="20.6" fill="#595959" textLength="108.5" lengthAdjust="spacingAndGlyphs">Engime RPM</text>
</svg>
<svg width="1472" height="265" viewBox="0 520 1472 265" style="position:absolute;left:0;top:520px">
<g font-size="30.5" fill="#000">
<text x="11.7" y="564.75" textLength="66.93" lengthAdjust="spacingAndGlyphs">Auto</text>
<text x="86.64" y="564.75" textLength="107.3" lengthAdjust="spacingAndGlyphs">Sensors</text>
<text x="203.1" y="564.75" textLength="121.46" lengthAdjust="spacingAndGlyphs">Australia</text>
<text x="333.46" y="564.75" textLength="172.65" lengthAdjust="spacingAndGlyphs">recommend</text>
<text x="513.3" y="564.75" textLength="51.97" lengthAdjust="spacingAndGlyphs">you</text>
<text x="572.04" y="564.75" textLength="102.48" lengthAdjust="spacingAndGlyphs">relearn</text>
<text x="682.1" y="564.75" textLength="45.94" lengthAdjust="spacingAndGlyphs">the</text>
<text x="737.0" y="564.75" textLength="52.81" lengthAdjust="spacingAndGlyphs">fuel</text>
<text x="797.9" y="564.75" textLength="71.87" lengthAdjust="spacingAndGlyphs">trims</text>
<text x="878.42" y="564.75" textLength="66.15" lengthAdjust="spacingAndGlyphs">after</text>
<text x="953.37" y="564.75" textLength="127.14" lengthAdjust="spacingAndGlyphs">changing</text>
<text x="1087.62" y="564.75" textLength="14.84" lengthAdjust="spacingAndGlyphs">a</text>
<text x="1112.52" y="564.75" textLength="63.81" lengthAdjust="spacingAndGlyphs">MAF</text>
<polygon points="1183.80,569.85 1186.70,569.85 1197.30,540.05 1194.30,540.05"/>
<text x="1206.7" y="564.75" textLength="75.77" lengthAdjust="spacingAndGlyphs">AFM.</text>
<text x="1289.66" y="564.75" textLength="16.43" lengthAdjust="spacingAndGlyphs">If</text>
<text x="1315.9" y="564.75" textLength="50.93" lengthAdjust="spacingAndGlyphs">you</text>
<text x="1375.43" y="564.75" textLength="36.41" lengthAdjust="spacingAndGlyphs">do</text>
<text x="1419.94" y="564.75" textLength="45.9" lengthAdjust="spacingAndGlyphs">not</text>
<text x="11.23" y="607.3" textLength="36.41" lengthAdjust="spacingAndGlyphs">do</text>
<text x="55.9" y="607.3" textLength="49.26" lengthAdjust="spacingAndGlyphs">this</text>
<text x="114.8" y="607.3" textLength="46.05" lengthAdjust="spacingAndGlyphs">the</text>
<text x="169.8" y="607.3" textLength="97.49" lengthAdjust="spacingAndGlyphs">vehicle</text>
<text x="275.01" y="607.3" textLength="48.83" lengthAdjust="spacingAndGlyphs">has</text>
<text x="331.6" y="607.3" textLength="39.01" lengthAdjust="spacingAndGlyphs">no</text>
<text x="379.84" y="607.3" textLength="56.19" lengthAdjust="spacingAndGlyphs">way</text>
<text x="444.4" y="607.3" textLength="25.26" lengthAdjust="spacingAndGlyphs">to</text>
<text x="476.31" y="607.3" textLength="74.27" lengthAdjust="spacingAndGlyphs">know</text>
<text x="562.6" y="607.3" textLength="51.97" lengthAdjust="spacingAndGlyphs">you</text>
<text x="621.05" y="607.3" textLength="67.94" lengthAdjust="spacingAndGlyphs">have</text>
<text x="696.99" y="607.3" textLength="118.5" lengthAdjust="spacingAndGlyphs">changed</text>
<text x="824.5" y="607.3" textLength="46.05" lengthAdjust="spacingAndGlyphs">the</text>
<text x="879.5" y="607.3" textLength="39.37" lengthAdjust="spacingAndGlyphs">Air</text>
<text x="927.34" y="607.3" textLength="66.26" lengthAdjust="spacingAndGlyphs">Flow</text>
<text x="1001.38" y="607.3" textLength="86.7" lengthAdjust="spacingAndGlyphs">Meter</text>
<text x="1096.76" y="607.3" textLength="53.09" lengthAdjust="spacingAndGlyphs">and</text>
<text x="1158.92" y="607.3" textLength="47.47" lengthAdjust="spacingAndGlyphs">will</text>
<text x="1212.76" y="607.3" textLength="49.44" lengthAdjust="spacingAndGlyphs">run</text>
<text x="1270.9" y="607.3" textLength="52.5" lengthAdjust="spacingAndGlyphs">fuel</text>
<text x="1331.5" y="607.3" textLength="72.88" lengthAdjust="spacingAndGlyphs">trims</text>
<text x="11.29" y="649.6" textLength="147.19" lengthAdjust="spacingAndGlyphs">associated</text>
<text x="167.53" y="649.6" textLength="61.08" lengthAdjust="spacingAndGlyphs">with</text>
<text x="236.4" y="649.6" textLength="45.94" lengthAdjust="spacingAndGlyphs">the</text>
<text x="291.18" y="649.6" textLength="45.62" lengthAdjust="spacingAndGlyphs">old</text>
<text x="344.15" y="649.6" textLength="71.18" lengthAdjust="spacingAndGlyphs">MAF.</text>
<text x="421.69" y="649.6" textLength="83.1" lengthAdjust="spacingAndGlyphs">Often</text>
<text x="511.6" y="649.6" textLength="46.05" lengthAdjust="spacingAndGlyphs">the</text>
<text x="565.35" y="649.6" textLength="59.63" lengthAdjust="spacingAndGlyphs">PCU</text>
<polygon points="630.50,654.70 633.40,654.70 644.00,624.90 641.00,624.90"/>
<text x="652.98" y="649.6" textLength="58.56" lengthAdjust="spacingAndGlyphs">ECU</text>
<text x="719.14" y="649.6" textLength="48.49" lengthAdjust="spacingAndGlyphs">will</text>
<text x="773.55" y="649.6" textLength="67.94" lengthAdjust="spacingAndGlyphs">have</text>
<text x="849.45" y="649.6" textLength="71.31" lengthAdjust="spacingAndGlyphs">been</text>
<text x="927.64" y="649.6" textLength="129.03" lengthAdjust="spacingAndGlyphs">adjusting</text>
<text x="1065.2" y="649.6" textLength="71.87" lengthAdjust="spacingAndGlyphs">trims</text>
<text x="1145.8" y="649.6" textLength="26.92" lengthAdjust="spacingAndGlyphs">to</text>
<text x="1181.68" y="649.6" textLength="109.39" lengthAdjust="spacingAndGlyphs">account</text>
<text x="1300.9" y="649.6" textLength="39.17" lengthAdjust="spacingAndGlyphs">for</text>
<text x="1348.74" y="649.6" textLength="35.83" lengthAdjust="spacingAndGlyphs">an</text>
<text x="1391.98" y="649.6" textLength="45.62" lengthAdjust="spacingAndGlyphs">old</text>
<text x="1444.55" y="649.6" textLength="31.13" lengthAdjust="spacingAndGlyphs">or</text>
<text x="12.3" y="692.0" textLength="76.12" lengthAdjust="spacingAndGlyphs">faulty</text>
<text x="99.9" y="692.0" textLength="90.66" lengthAdjust="spacingAndGlyphs">sensor</text>
<text x="200.7" y="692.0" textLength="29.89" lengthAdjust="spacingAndGlyphs">so</text>
<text x="240.75" y="692.0" textLength="76.92" lengthAdjust="spacingAndGlyphs">when</text>
<text x="325.6" y="692.0" textLength="52.7" lengthAdjust="spacingAndGlyphs">you</text>
<text x="384.75" y="692.0" textLength="102.74" lengthAdjust="spacingAndGlyphs">replace</text>
<text x="497.74" y="692.0" textLength="61.69" lengthAdjust="spacingAndGlyphs">with</text>
<text x="566.24" y="692.0" textLength="16.22" lengthAdjust="spacingAndGlyphs">a</text>
<text x="591.5" y="692.0" textLength="71.98" lengthAdjust="spacingAndGlyphs">fresh</text>
<text x="671.33" y="692.0" textLength="56.11" lengthAdjust="spacingAndGlyphs">part</text>
<text x="737.0" y="692.0" textLength="66.74" lengthAdjust="spacingAndGlyphs">from</text>
<text x="812.9" y="692.0" textLength="66.62" lengthAdjust="spacingAndGlyphs">Auto</text>
<text x="887.84" y="692.0" textLength="107.7" lengthAdjust="spacingAndGlyphs">Sensors</text>
<text x="1005.3" y="692.0" textLength="121.46" lengthAdjust="spacingAndGlyphs">Australia</text>
<text x="1135.8" y="692.0" textLength="51.97" lengthAdjust="spacingAndGlyphs">you</text>
<text x="1194.58" y="692.0" textLength="71.79" lengthAdjust="spacingAndGlyphs">need</text>
<text x="1273.3" y="692.0" textLength="27.65" lengthAdjust="spacingAndGlyphs">to</text>
<text x="1309.49" y="692.0" textLength="71.45" lengthAdjust="spacingAndGlyphs">reset</text>
<text x="1392.1" y="692.0" textLength="45.33" lengthAdjust="spacingAndGlyphs">the</text>
<text x="11.28" y="734.5" textLength="50.01" lengthAdjust="spacingAndGlyphs">ecu</text>
<text x="69.37" y="734.5" textLength="52.67" lengthAdjust="spacingAndGlyphs">and</text>
<text x="128.32" y="734.5" textLength="103.52" lengthAdjust="spacingAndGlyphs">relearn</text>
<text x="239.0" y="734.5" textLength="46.05" lengthAdjust="spacingAndGlyphs">the</text>
<text x="292.9" y="734.5" textLength="71.87" lengthAdjust="spacingAndGlyphs">trims</text>
<text x="374.5" y="734.5" textLength="25.98" lengthAdjust="spacingAndGlyphs">to</text>
<text x="411.02" y="734.5" textLength="78.38" lengthAdjust="spacingAndGlyphs">avoid</text>
<text x="496.6" y="734.5" textLength="99.25" lengthAdjust="spacingAndGlyphs">stalling</text>
<polygon points="601.20,739.60 604.10,739.60 614.70,709.80 611.70,709.80"/>
<text x="624.8" y="734.5" textLength="42.75" lengthAdjust="spacingAndGlyphs">flat</text>
<text x="678.7" y="734.5" textLength="72.85" lengthAdjust="spacingAndGlyphs">spots</text>
<polygon points="759.30,739.60 762.20,739.60 772.80,709.80 769.80,709.80"/>
<text x="781.45" y="734.5" textLength="140.67" lengthAdjust="spacingAndGlyphs">hesitation</text>
<polygon points="928.40,739.60 931.30,739.60 941.90,709.80 938.90,709.80"/>
<text x="950.69" y="734.5" textLength="54.56" lengthAdjust="spacingAndGlyphs">lack</text>
<text x="1014.21" y="734.5" textLength="27.82" lengthAdjust="spacingAndGlyphs">of</text>
<text x="1050.87" y="734.5" textLength="77.09" lengthAdjust="spacingAndGlyphs">boost</text>
<text x="1138.5" y="734.5" textLength="67.46" lengthAdjust="spacingAndGlyphs">from</text>
<text x="1214.4" y="734.5" textLength="46.66" lengthAdjust="spacingAndGlyphs">the</text>
<text x="1269.11" y="734.5" textLength="57.6" lengthAdjust="spacingAndGlyphs">ECU</text>
<text x="1334.9" y="734.5" textLength="47.83" lengthAdjust="spacingAndGlyphs">still</text>
<text x="11.23" y="776.6" textLength="103.37" lengthAdjust="spacingAndGlyphs">applyin</text>
<text x="121.45" y="776.6" textLength="17.81" lengthAdjust="spacingAndGlyphs">g</text>
<text x="145.5" y="776.6" textLength="45.94" lengthAdjust="spacingAndGlyphs">the</text>
<text x="199.66" y="776.6" textLength="212.39" lengthAdjust="spacingAndGlyphs">compensations</text>
<text x="421.1" y="776.6" textLength="38.47" lengthAdjust="spacingAndGlyphs">for</text>
<text x="468.7" y="776.6" textLength="47.38" lengthAdjust="spacingAndGlyphs">the</text>
<text x="524.5" y="776.6" textLength="44.87" lengthAdjust="spacingAndGlyphs">old</text>
<text x="577.2" y="776.6" textLength="75.15" lengthAdjust="spacingAndGlyphs">AFM.</text>
<text x="659.36" y="776.6" textLength="171.36" lengthAdjust="spacingAndGlyphs">Professional</text>
<text x="838.06" y="776.6" textLength="154.34" lengthAdjust="spacingAndGlyphs">installation</text>
<text x="1000.48" y="776.6" textLength="215.54" lengthAdjust="spacingAndGlyphs">recommended.</text>
</g></svg>
</body></html>
